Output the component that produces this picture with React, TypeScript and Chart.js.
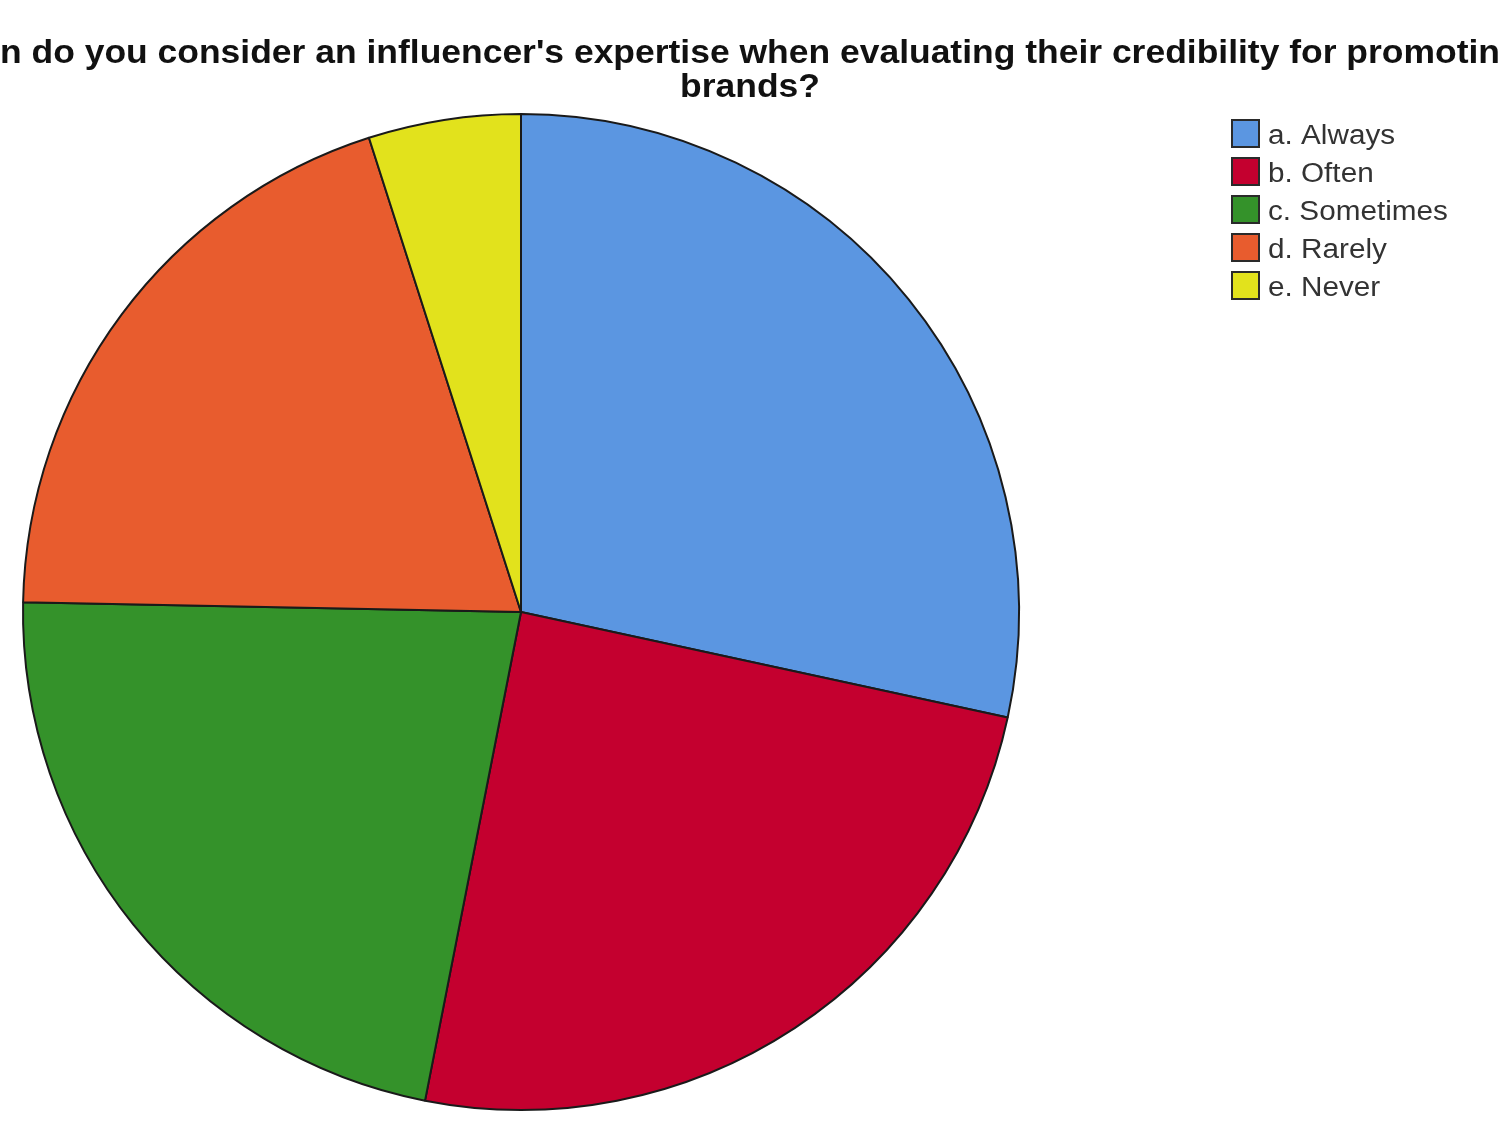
import React, { useEffect, useRef } from "react";
import { Chart, registerables } from "chart.js";

Chart.register(...registerables);

const categories = ["a. Always", "b. Often", "c. Sometimes", "d. Rarely", "e. Never"];
const counts = [23, 20, 18, 16, 4];
const sliceColors = ["#5b96e1", "#c4002f", "#34922a", "#e85c2e", "#e2e21c"];
const titleLines = [
  "How often do you consider an influencer's expertise when evaluating their credibility for promoting",
  "brands?",
];

const titlePlugin = {
  id: "customTitle",
  afterDraw(chart: any) {
    const ctx = chart.ctx;
    ctx.save();
    ctx.font = "bold 33px 'Liberation Sans', Arial, sans-serif";
    ctx.fillStyle = "#111111";
    ctx.textBaseline = "alphabetic";
    // the first line overflows the page on both sides, as in the reference
    const line = titleLines[0];
    const wPrefix = ctx.measureText("How ofte").width;
    const wVisible = ctx.measureText(line.slice(0, line.length - 1)).width - wPrefix;
    const s = 1500 / wVisible;
    ctx.save();
    ctx.translate(0 - s * wPrefix, 63);
    ctx.scale(s, 1);
    ctx.textAlign = "left";
    ctx.fillText(line, 0, 0);
    ctx.restore();
    ctx.save();
    ctx.translate(750, 97);
    ctx.scale(s, 1);
    ctx.textAlign = "center";
    ctx.fillText(titleLines[1], 0, 0);
    ctx.restore();
    ctx.restore();
  },
};

const legendPlugin = {
  id: "customLegend",
  afterDraw(chart: any) {
    const ctx = chart.ctx;
    const labels = chart.data.labels as string[];
    const colors = chart.data.datasets[0].backgroundColor as string[];
    const x0 = 1232;
    const y0 = 120;
    const step = 38;
    const box = 27;
    ctx.save();
    ctx.font = "27px 'Liberation Sans', Arial, sans-serif";
    ctx.textBaseline = "middle";
    ctx.textAlign = "left";
    labels.forEach((lab, i) => {
      const y = y0 + i * step;
      ctx.fillStyle = colors[i];
      ctx.fillRect(x0, y, box, box);
      ctx.lineWidth = 2;
      ctx.strokeStyle = "#2a2a2a";
      ctx.strokeRect(x0, y, box, box);
      ctx.fillStyle = "#333333";
      ctx.save();
      ctx.translate(x0 + box + 9, y + box / 2 + 3);
      ctx.scale(1.1, 1);
      ctx.fillText(lab, 0, 0);
      ctx.restore();
    });
    ctx.restore();
  },
};

export default function App() {
  const ref = useRef<HTMLCanvasElement>(null);
  useEffect(() => {
    if (!ref.current) return;
    const chart = new Chart(ref.current, {
      type: "pie",
      data: {
        labels: categories,
        datasets: [
          {
            data: counts,
            backgroundColor: sliceColors,
            borderColor: "#1a1a1a",
            borderWidth: 2,
          },
        ],
      },
      options: {
        responsive: false,
        animation: false,
        devicePixelRatio: 1,
        layout: { padding: { left: 22, right: 480, top: 113, bottom: 15 } },
        plugins: {
          legend: { display: false },
          tooltip: { enabled: false },
          title: { display: false },
        },
      },
      plugins: [titlePlugin, legendPlugin],
    });
    return () => chart.destroy();
  }, []);
  return (
    <div style={{ position: "absolute", left: 0, top: 0, width: 1500, height: 1126, background: "#ffffff" }}>
      <canvas ref={ref} width={1500} height={1126} />
    </div>
  );
}
